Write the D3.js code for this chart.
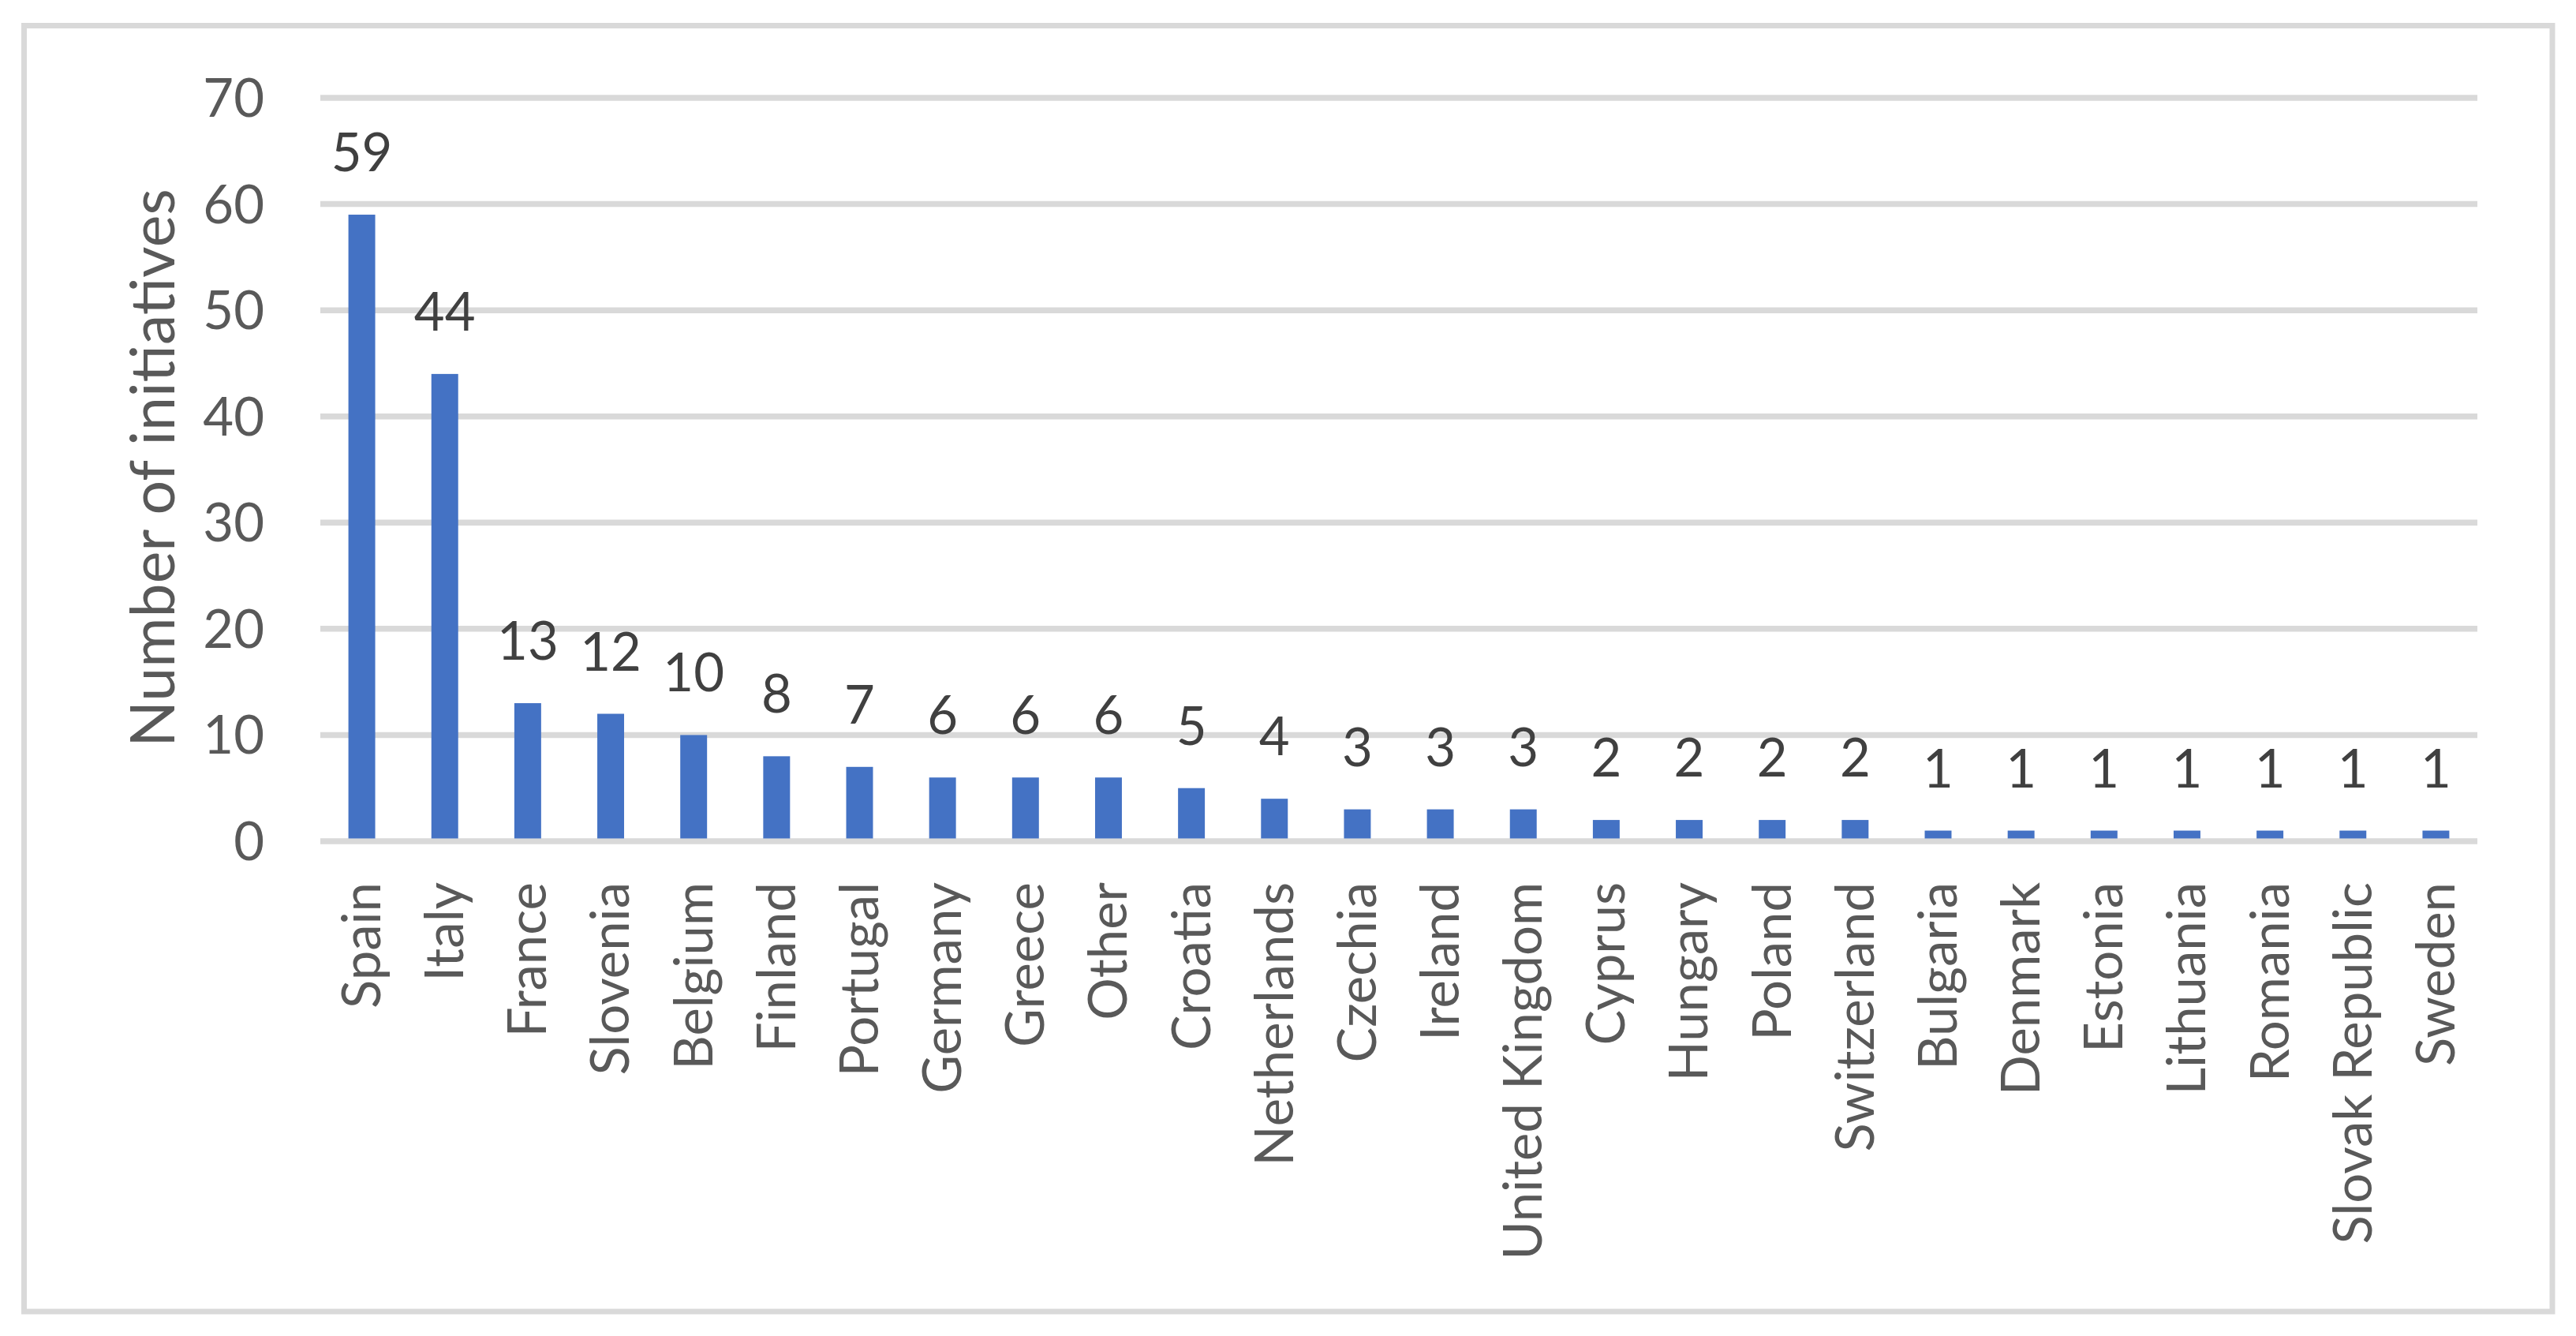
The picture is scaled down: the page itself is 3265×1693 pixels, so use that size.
<!DOCTYPE html>
<html><head><meta charset="utf-8">
<script src="https://cdn.jsdelivr.net/npm/d3@7"></script>
<style>html,body{margin:0;padding:0;background:#fff;} svg{display:block;}</style>
</head><body>
<script>
const categories = ["Spain","Italy","France","Slovenia","Belgium","Finland","Portugal","Germany","Greece","Other","Croatia","Netherlands","Czechia","Ireland","United Kingdom","Cyprus","Hungary","Poland","Switzerland","Bulgaria","Denmark","Estonia","Lithuania","Romania","Slovak Republic","Sweden"];
const values = [59,44,13,12,10,8,7,6,6,6,5,4,3,3,3,2,2,2,2,1,1,1,1,1,1,1];
const yTicks = [0,10,20,30,40,50,60,70];
const yTitle = "Number of initiatives";

const W = 3265, H = 1693;
const FONT = "Lato, 'Open Sans', sans-serif";
const svg = d3.select("body").append("svg").attr("width", W).attr("height", H);

svg.append("rect").attr("x", 30.5).attr("y", 32.5).attr("width", 3235 - 30.5).attr("height", 1662 - 32.5)
  .attr("fill", "#fff").attr("stroke", "#d9d9d9").attr("stroke-width", 7);

const x = d3.scaleBand().domain(categories).range([406, 3140]).paddingInner(0.677).paddingOuter(0.3385);
const y = d3.scaleLinear().domain([0, 70]).range([1066, 124]);

// gridlines
svg.append("g").selectAll("line").data(yTicks).join("line")
  .attr("x1", 406).attr("x2", 3140)
  .attr("y1", d => y(d)).attr("y2", d => y(d))
  .attr("stroke", "#d9d9d9").attr("stroke-width", 7.5);

// y axis labels
const yAxis = d3.axisLeft(y).tickValues(yTicks).tickSize(0).tickPadding(0);
const gy = svg.append("g").attr("transform", "translate(335,0)").call(yAxis);
gy.select(".domain").remove();
gy.selectAll("text").attr("font-family", FONT).attr("font-size", 67).attr("fill", "#595959").attr("dy", "0.35em");

// bars
svg.append("g").selectAll("rect").data(values).join("rect")
  .attr("x", (d, i) => x(categories[i]))
  .attr("width", x.bandwidth())
  .attr("y", d => y(d))
  .attr("height", d => y(0) - 3.5 - y(d))
  .attr("fill", "#4472C4");

// data labels
svg.append("g").selectAll("text").data(values).join("text")
  .attr("x", (d, i) => x(categories[i]) + x.bandwidth() / 2)
  .attr("y", d => y(d) - 55)
  .attr("text-anchor", "middle")
  .attr("font-family", FONT).attr("font-size", 67).attr("fill", "#404040")
  .text(d => d);

// x axis labels
const xAxis = d3.axisBottom(x).tickSize(0).tickPadding(0);
const gx = svg.append("g").attr("transform", "translate(0,1118)").call(xAxis);
gx.select(".domain").remove();
gx.selectAll("text")
  .attr("font-family", FONT).attr("font-size", 67).attr("fill", "#595959")
  .attr("transform", "rotate(-90)")
  .attr("x", 0).attr("y", 0).attr("dy", "0.35em")
  .attr("text-anchor", "end");

// y title
svg.append("text").attr("transform", "translate(194,593) rotate(-90)")
  .attr("text-anchor", "middle").attr("dy", "0.35em")
  .attr("font-family", FONT).attr("font-size", 77).attr("fill", "#595959")
  .text(yTitle);
</script>
</body></html>
